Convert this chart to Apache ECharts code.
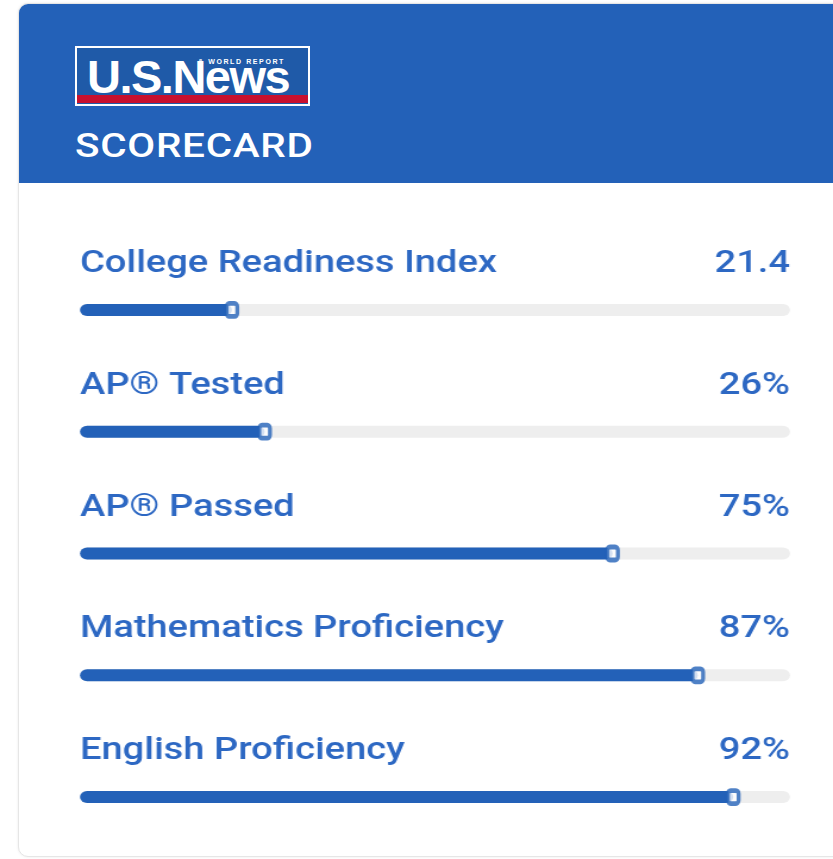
<!DOCTYPE html>
<html>
<head>
<meta charset="utf-8">
<script src="https://cdn.jsdelivr.net/npm/echarts@6/dist/echarts.min.js"></script>
<style>
  html, body {
    margin: 0;
    padding: 0;
    width: 833px;
    height: 859px;
    background: #fff;
    overflow: hidden;
    font-family: Roboto, sans-serif;
  }
  .card {
    position: absolute;
    left: 18px;
    top: 3px;
    width: 860px;
    height: 852px;
    border: 1px solid #e6e6e6;
    border-radius: 10px;
    box-shadow: 0 0 3px rgba(0, 0, 0, 0.08);
    background: #fff;
    overflow: hidden;
  }
  .header {
    position: absolute;
    left: 0;
    top: 0;
    right: 0;
    height: 179px;
    background: #2361b8;
  }
  .logo {
    position: absolute;
    left: 56px;
    top: 42px;
    width: 231px;
    height: 56px;
    border: 2px solid #fff;
    background: #1f5aa8;
    overflow: hidden;
  }
  .logo .word {
    position: absolute;
    left: 10px;
    top: 4px;
    color: #fff;
    font-family: "Liberation Sans", Arial, sans-serif;
    font-weight: bold;
    font-size: 47px;
    letter-spacing: -1.5px;
    line-height: 50px;
  }
  .logo .tiny {
    position: absolute;
    left: 121px;
    top: 10px;
    color: #fff;
    font-family: "Liberation Sans", Arial, sans-serif;
    font-weight: bold;
    font-size: 7px;
    letter-spacing: 1.6px;
    line-height: 7px;
    white-space: nowrap;
  }
  .logo .stripe {
    position: absolute;
    left: 0;
    right: 0;
    bottom: 1px;
    height: 8px;
    background: #c8102e;
  }
  .title {
    position: absolute;
    left: 56px;
    top: 121px;
    color: #fff;
    font-family: Roboto, sans-serif;
    font-weight: 500;
    font-size: 34px;
    letter-spacing: 0.6px;
    line-height: 40px;
    transform-origin: 0 0;
    transform: scaleX(1.19);
  }
  /* the reference is stretched sideways, so the chart is drawn narrower and scaled */
  #chart {
    position: absolute;
    left: 0;
    top: 0;
    width: 700px;
    height: 859px;
    transform-origin: 0 0;
    transform: scaleX(1.19);
  }
</style>
</head>
<body>
<div class="card">
  <div class="header">
    <div class="logo">
      <div class="word">U.S.News</div>
      <div class="tiny">&amp; WORLD REPORT</div>
      <div class="stripe"></div>
    </div>
    <div class="title">SCORECARD</div>
  </div>
</div>
<div id="chart"></div>
<script>
// scorecard metrics
const categories = [
  'College Readiness Index',
  'AP® Tested',
  'AP® Passed',
  'Mathematics Proficiency',
  'English Proficiency',
]
const values = [21.4, 26, 75, 87, 92]
const valueLabels = ['21.4', '26%', '75%', '87%', '92%']

const BLUE = '#2361b8'
const TEXT_BLUE = '#2d68c3'

const chart = echarts.init(document.getElementById('chart'))

const labelStyle = {
  inside: true,
  margin: 0,
  color: TEXT_BLUE,
  fontFamily: 'Roboto',
  fontWeight: 500,
  fontSize: 32,
  lineHeight: 32,
  verticalAlign: 'bottom',
  padding: [0, 0, 30, 0],
}

const option = {
  animation: false,
  grid: {
    left: 67.2,
    right: 36.1,
    top: 249,
    height: 609,
  },
  xAxis: {
    type: 'value',
    min: 0,
    max: 100,
    show: false,
  },
  yAxis: [
    {
      type: 'category',
      data: categories,
      inverse: true,
      position: 'left',
      axisLine: { show: false },
      axisTick: { show: false },
      splitLine: { show: false },
      axisLabel: { ...labelStyle, align: 'left' },
    },
    {
      type: 'category',
      data: valueLabels,
      inverse: true,
      position: 'right',
      axisLine: { show: false },
      axisTick: { show: false },
      splitLine: { show: false },
      axisLabel: { ...labelStyle, align: 'right' },
    },
  ],
  series: [
    {
      type: 'bar',
      yAxisIndex: 0,
      data: values,
      barWidth: 12,
      itemStyle: { color: BLUE, borderRadius: 6 },
      showBackground: true,
      backgroundStyle: { color: '#eeeeee', borderRadius: 6 },
    },
    {
      type: 'scatter',
      yAxisIndex: 0,
      data: values.map((v, i) => [v, i]),
      symbol: 'roundRect',
      symbolSize: [9, 13],
      itemStyle: {
        color: '#fff',
        borderColor: BLUE,
        borderWidth: 4,
      },
      z: 3,
    },
  ],
}

chart.setOption(option)
</script>
</body>
</html>
